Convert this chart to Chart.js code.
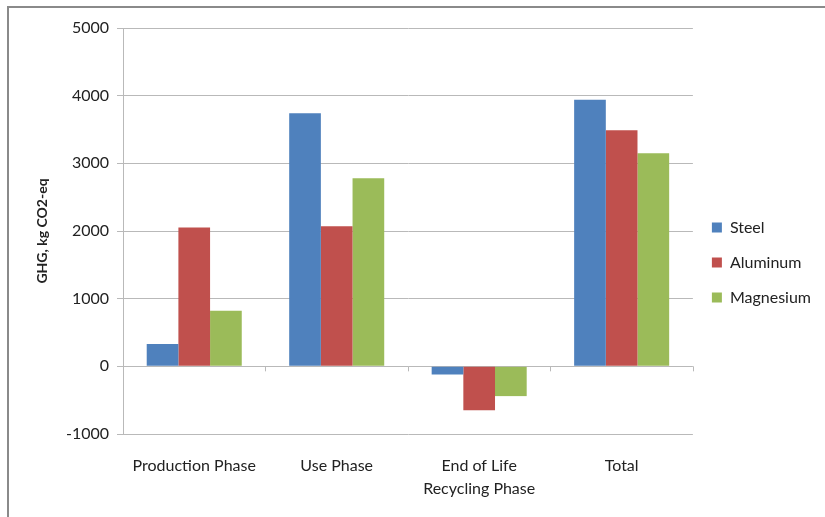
<!DOCTYPE html>
<html>
<head>
<meta charset="utf-8">
<script src="https://cdn.jsdelivr.net/npm/chart.js@4/dist/chart.umd.min.js"></script>
<style>
  html, body { margin: 0; padding: 0; background: #fff; overflow: hidden; }
  #frame { position: absolute; left: 7px; top: 6px; width: 900px; height: 600px; border: 2px solid #8a8a8a; }
  #wrap { position: absolute; left: 0; top: 0; width: 825px; height: 517px; }
</style>
</head>
<body>
<div id="frame"></div>
<div id="wrap"><canvas id="ghg"></canvas></div>
<script>
// phases along the x axis
var phases = ["Production Phase", "Use Phase", ["End of Life", "Recycling Phase"], "Total"];

// GHG values, kg CO2-eq
var steel = [330, 3740, -120, 3940];
var aluminum = [2050, 2070, -650, 3490];
var magnesium = [820, 2780, -440, 3150];

var yTicks = [-1000, 0, 1000, 2000, 3000, 4000, 5000];

var font = "Lato, 'Open Sans', sans-serif";
var gridGray = "#b9b9b9";
var textColor = "#222";

// little tick marks on the zero line between phases, like Excel does
var zeroTicks = {
  id: "zeroTicks",
  beforeDatasetsDraw: function (chart) {
    var x = chart.scales.x, y = chart.scales.y;
    var y0 = y.getPixelForValue(0);
    var step = (x.right - x.left) / phases.length;
    var c = chart.ctx;
    c.save();
    c.strokeStyle = gridGray;
    c.lineWidth = 1;
    c.beginPath();
    for (var i = 0; i <= phases.length; i++) {
      var px = Math.round(x.left + i * step) + 0.5;
      c.moveTo(px, y0);
      c.lineTo(px, y0 + 5);
    }
    c.stroke();
    c.restore();
  }
};

new Chart(document.getElementById("ghg"), {
  type: "bar",
  data: {
    labels: phases,
    datasets: [
      { label: "Steel", data: steel, backgroundColor: "#4F81BD" },
      { label: "Aluminum", data: aluminum, backgroundColor: "#C0504D" },
      { label: "Magnesium", data: magnesium, backgroundColor: "#9BBB59" }
    ]
  },
  options: {
    responsive: true,
    maintainAspectRatio: false,
    animation: false,
    layout: { padding: { top: 28, left: 34, right: 4, bottom: 20 } },
    datasets: { bar: { categoryPercentage: 0.667, barPercentage: 1.0 } },
    plugins: {
      legend: {
        position: "right",
        labels: {
          boxWidth: 10,
          boxHeight: 10,
          padding: 19,
          color: textColor,
          font: { family: font, size: 16 }
        }
      },
      tooltip: { enabled: false }
    },
    scales: {
      x: {
        grid: { display: false },
        border: { display: false },
        ticks: {
          color: textColor,
          padding: 13,
          maxRotation: 0,
          font: { family: font, size: 16, lineHeight: 1.4 }
        },
        afterFit: function (s) { s.height = 63; }
      },
      y: {
        min: -1000,
        max: 5000,
        afterBuildTicks: function (s) {
          s.ticks = yTicks.map(function (v) { return { value: v }; });
        },
        grid: { color: gridGray, tickLength: 6 },
        border: { color: gridGray },
        ticks: {
          color: textColor,
          padding: 8,
          font: { family: font, size: 16 },
          callback: function (v) { return String(v); }
        },
        title: {
          display: true,
          text: "GHG, kg CO2-eq",
          color: textColor,
          font: { family: font, size: 14, weight: "bold" },
          padding: { top: 0, bottom: 12 }
        },
        afterFit: function (s) { s.width = 89; }
      }
    }
  },
  plugins: [zeroTicks]
});
</script>
</body>
</html>
